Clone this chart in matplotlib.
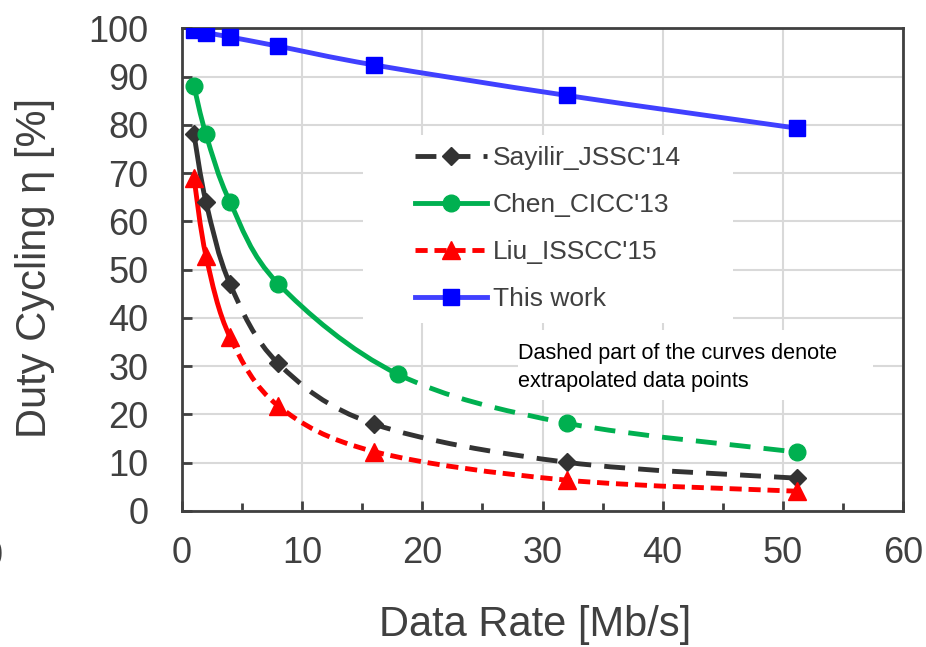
import numpy as np
import matplotlib.pyplot as plt
from matplotlib.path import Path
from matplotlib.patches import PathPatch, Rectangle
from matplotlib.lines import Line2D
from matplotlib.ticker import MultipleLocator

plt.rcParams['font.family'] = ['Liberation Sans', 'DejaVu Sans']

# data rate [Mb/s] vs duty cycling [%]
rate = [1, 2, 4, 8, 16, 32, 51.2]
rate_chen = [1, 2, 4, 8, 18, 32, 51.2]
sayilir = [78, 64, 47, 30.6, 18, 10.1, 6.8]
chen = [88, 78, 64, 47.1, 28.3, 18.2, 12.2]
liu = [69, 52.8, 36, 21.8, 12.3, 6.4, 4.1]
this_work = [99.7, 99.1, 98.2, 96.3, 92.4, 86.1, 79.3]
labels = ["Sayilir_JSSC'14", "Chen_CICC'13", "Liu_ISSCC'15", "This work"]

GRAY = '#404040'
LW = 3.5


def smooth_path(x, y, i0, i1):
    # bezier pieces between points i0..i1, tangents taken from the neighbours
    p = np.column_stack([x, y]).astype(float)
    n = len(p)
    verts = [p[i0]]
    codes = [Path.MOVETO]
    for i in range(i0, i1):
        a = p[max(i - 1, 0)]
        b = p[i]
        c = p[i + 1]
        d = p[min(i + 2, n - 1)]
        verts += [b + (c - a) / 6, c - (d - b) / 6, c]
        codes += [Path.CURVE4] * 3
    return Path(verts, codes)


fig = plt.figure(figsize=(9.26, 6.47), dpi=100)
ax = fig.add_axes([182 / 926, 1 - 511 / 647, 721 / 926, 482.7 / 647])

# (x, y, index where the dashed part starts, colour, dashes, marker, size)
series = [
    (rate, sayilir, 2, '#333333', '#333333', (0, (4.3, 2.7)), 'D', 9.5),
    (rate_chen, chen, 4, '#00b050', '#00b050', (0, (4.3, 2.7)), 'o', 12),
    (rate, liu, 2, '#ff0000', '#ff0000', (0, (2.5, 1.4)), '^', 13),
    (rate, this_work, 6, '#4040ff', '#0000ff', (0, (4.3, 2.7)), 's', 12),
]

handles = []
for x, y, k, lc, mc, dash, mk, ms in series:
    n = len(x)
    ax.add_patch(PathPatch(smooth_path(x, y, 0, k), fc='none', ec=lc, lw=LW,
                           joinstyle='round', capstyle='round', zorder=2))
    if k < n - 1:
        ax.add_patch(PathPatch(smooth_path(x, y, k, n - 1), fc='none', ec=lc,
                               lw=LW, ls=dash, capstyle='butt', zorder=2))
    ax.plot(x, y, ls='none', marker=mk, ms=ms, mfc=mc, mec=mc, zorder=3)
    hs = dash if lc in ('#333333', '#ff0000') else '-'
    handles.append(Line2D([], [], color=lc, lw=LW, ls=hs, marker=mk, ms=ms,
                          mfc=mc, mec=mc, dash_capstyle='butt'))

ax.set_xlim(0, 60)
ax.set_ylim(0, 100)
ax.xaxis.set_major_locator(MultipleLocator(10))
ax.xaxis.set_minor_locator(MultipleLocator(5))
ax.yaxis.set_major_locator(MultipleLocator(10))
ax.grid(True, which='major', color='#d9d9d9', lw=1.5)
ax.set_axisbelow(True)

for s in ax.spines.values():
    s.set_color(GRAY)
    s.set_linewidth(2)
ax.tick_params(which='both', direction='in', color=GRAY, width=2,
               labelcolor=GRAY, labelsize=26)
ax.tick_params(which='major', length=7.5)
ax.tick_params(which='minor', length=6)
ax.tick_params(axis='y', pad=24)
ax.tick_params(axis='x', pad=18)

ax.set_xlabel('Data Rate [Mb/s]', fontsize=30, color=GRAY)
ax.set_ylabel('Duty Cycling η [%]', fontsize=30, color=GRAY)
ax.xaxis.set_label_coords(0.49, -0.195)
ax.yaxis.set_label_coords(-0.176, 0.503)

# white backgrounds behind legend and note
ax.add_patch(Rectangle((0.251, 0.3895), 0.513, 0.39, transform=ax.transAxes,
                       fc='white', ec='none', zorder=1))
ax.add_patch(Rectangle((0.466, 0.230), 0.492, 0.145, transform=ax.transAxes,
                       fc='white', ec='none', zorder=1))

ax.legend(handles, labels, loc='upper left', bbox_to_anchor=(0.312, 0.773),
          borderaxespad=0, borderpad=0.3, frameon=False, fontsize=19,
          handlelength=2.73, handletextpad=0.23, labelspacing=0.88,
          labelcolor=GRAY)

ax.text(0.466, 0.297, 'Dashed part of the curves denote\nextrapolated data points',
        transform=ax.transAxes, ha='left', va='center', fontsize=15.6,
        linespacing=1.45, color='black')

fig.text(0.0032, 1 - 557 / 647, '0', ha='right', va='center', fontsize=26,
         color=GRAY)

fig.savefig('out.png', dpi=100)
